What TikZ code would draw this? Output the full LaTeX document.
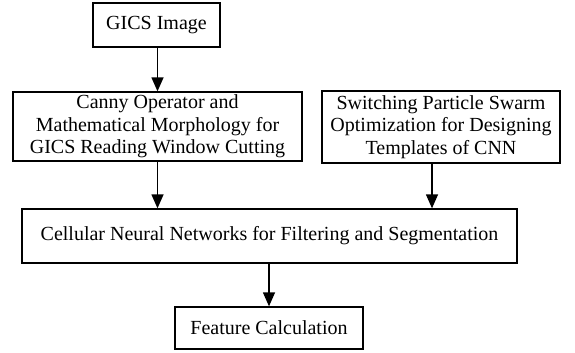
\documentclass[tikz,border=0pt]{standalone}
\usepackage{fontspec}
\setmainfont{Liberation Serif}
\usetikzlibrary{arrows.meta,calc}
\tikzset{
  box/.style={draw, line width=1.3pt, rectangle, inner sep=0pt, align=center,
    font=\fontsize{20}{22.5}\selectfont},
  arr/.style={line width=1.3pt, -{Triangle[width=12pt,length=14pt]}}
}
\begin{document}
\begin{tikzpicture}[x=1pt,y=-1pt]
\useasboundingbox (0,0) rectangle (575,353);
\node[box, minimum width=127pt, minimum height=44pt] (gics) at (156.5,25) {GICS Image};
\node[box, minimum width=289pt, minimum height=69pt] (canny) at (157.5,126.5)
  {Canny Operator and\\Mathematical Morphology for\\GICS Reading Window Cutting};
\node[box, minimum width=238pt, minimum height=72pt] (pso) at (441,127)
  {Switching Particle Swarm\\Optimization for Designing\\Templates of CNN};
\node[box, minimum width=495pt, minimum height=54pt] (cnn) at (269.5,236)
  {Cellular Neural Networks for Filtering and Segmentation};
\node[box, minimum width=188pt, minimum height=42pt] (feat) at (269,328)
  {Feature Calculation};
\coordinate (pa) at (432,0);
\draw[arr] (gics.south -| canny.north) -- (canny.north);
\draw[arr] (canny.south) -- (canny.south |- cnn.north);
\draw[arr] (pso.south -| pa) -- (cnn.north -| pa);
\draw[arr] (cnn.south -| feat.north) -- (feat.north);
\end{tikzpicture}
\end{document}
